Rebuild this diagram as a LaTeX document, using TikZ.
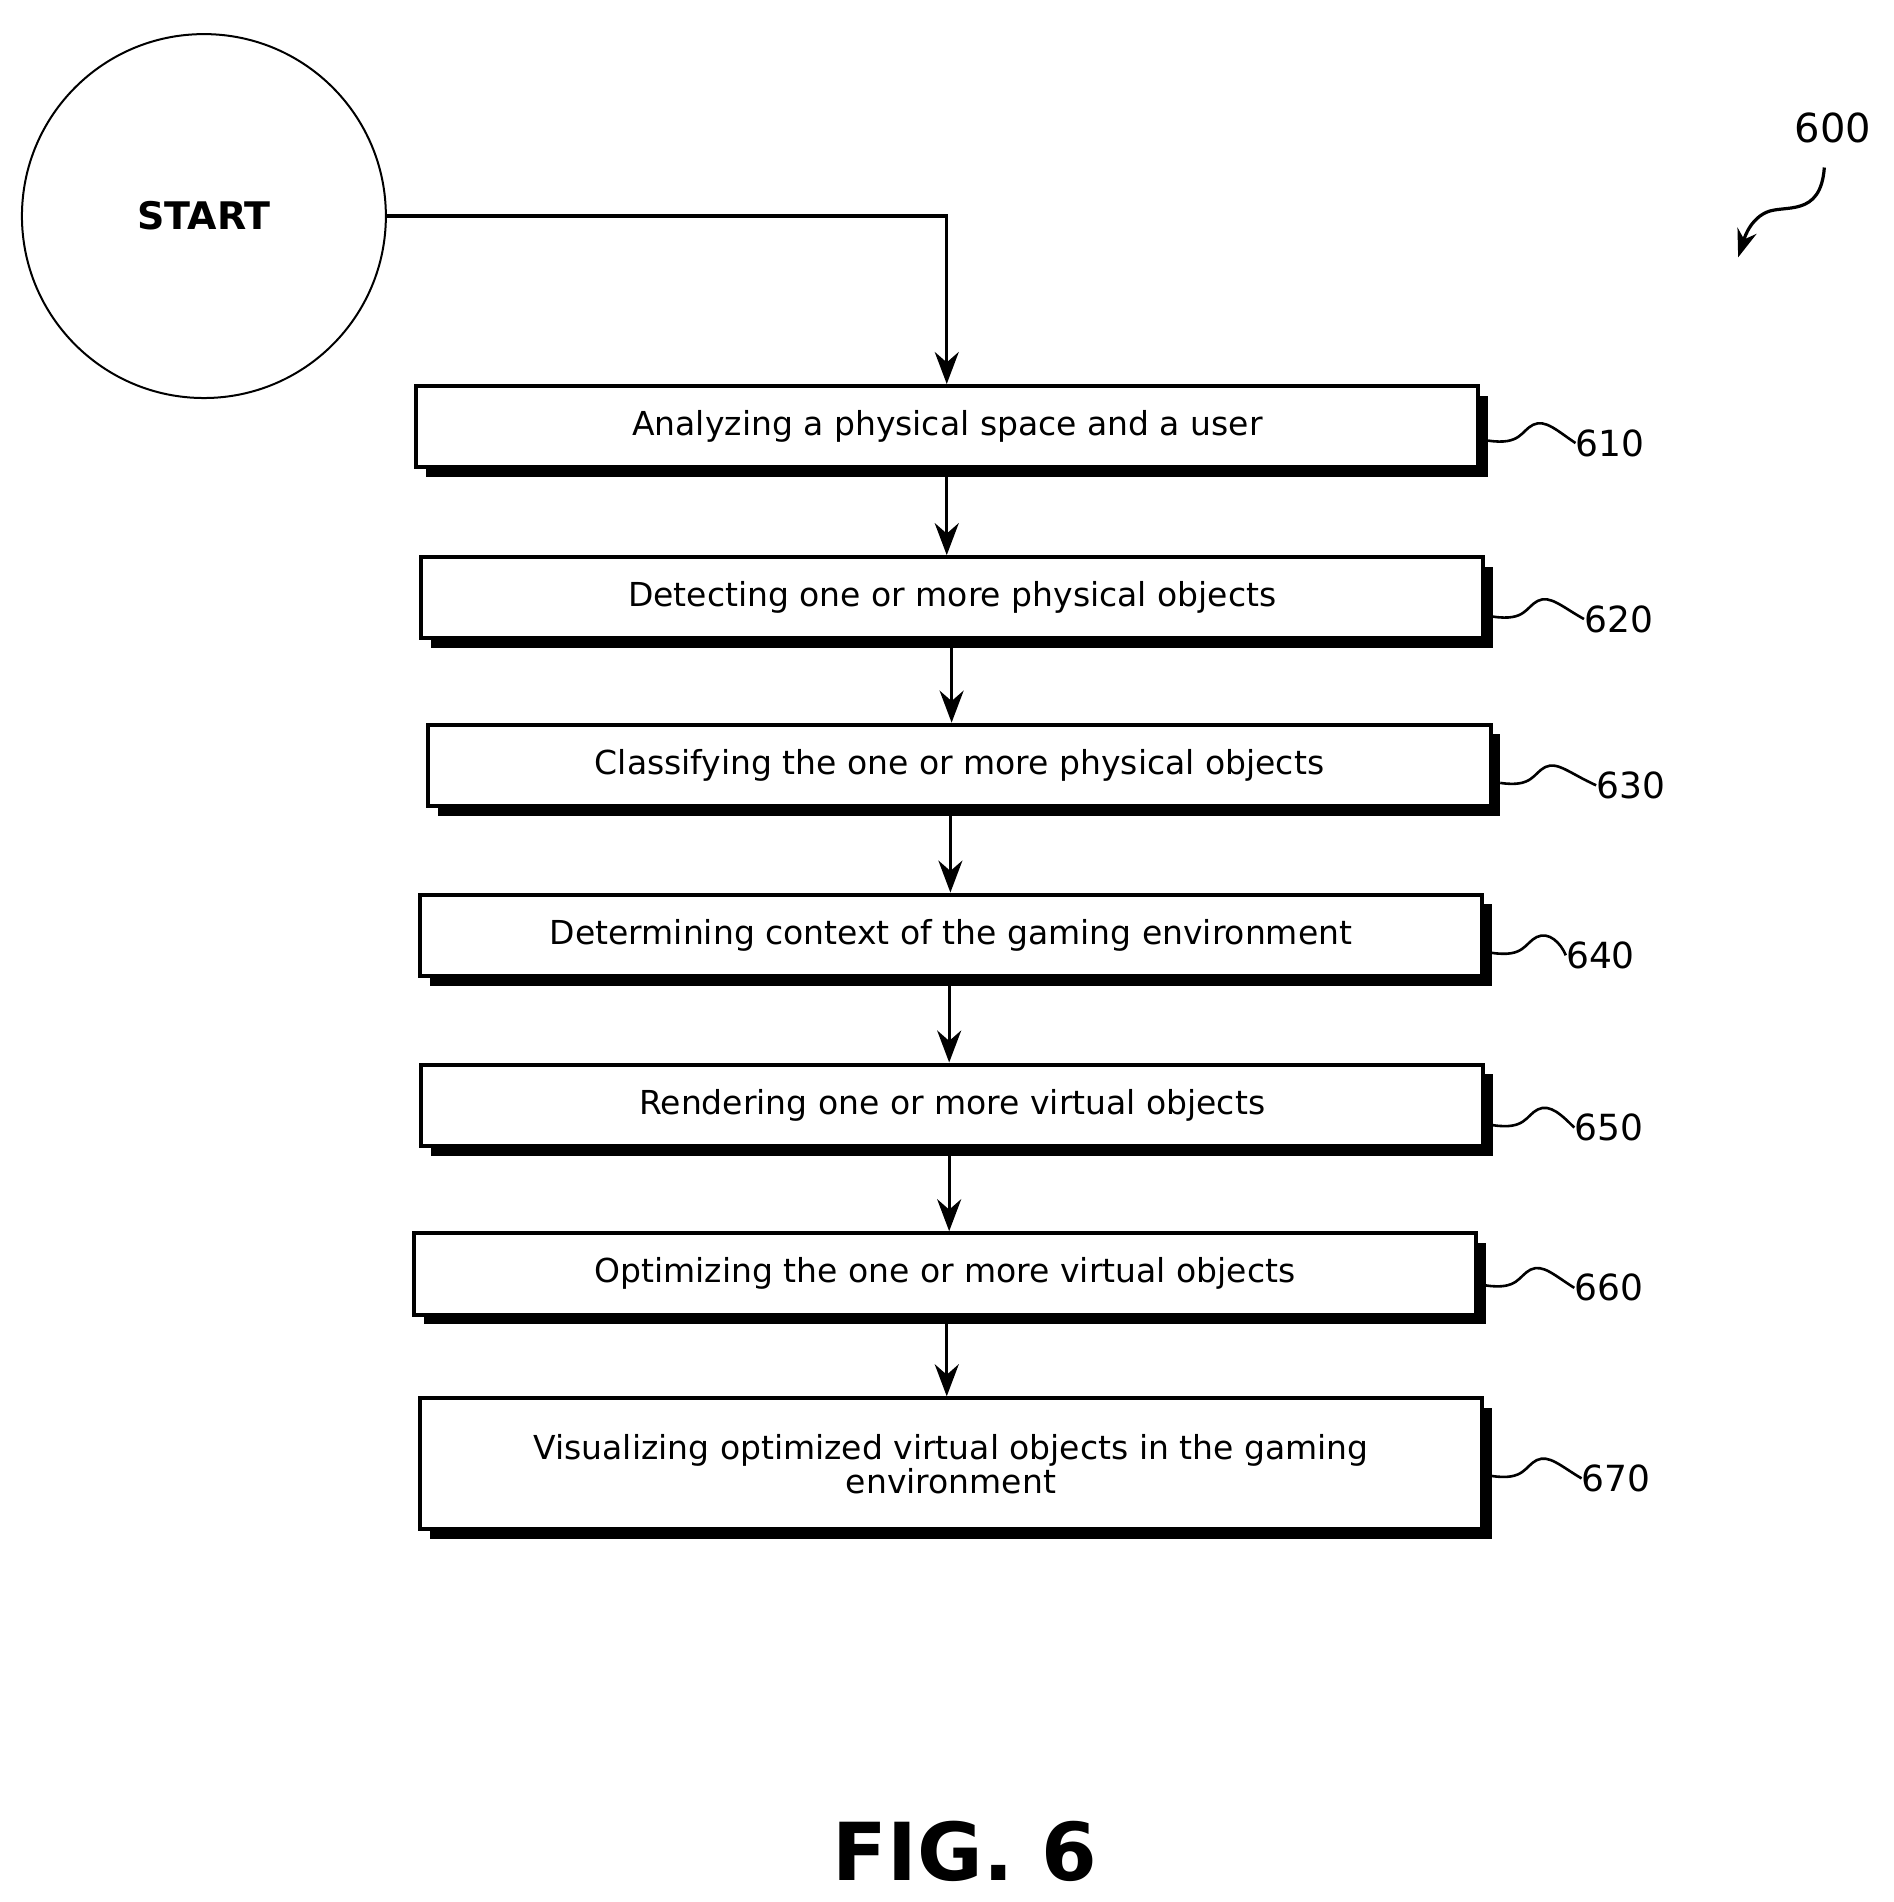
\documentclass[tikz,border=0pt]{standalone}
\usepackage{fontspec}
\setmainfont{DejaVu Sans}
\usetikzlibrary{arrows.meta}
\begin{document}
\begin{tikzpicture}[x=0.607pt,y=-0.607pt,
  box/.style={draw,line width=2pt,fill=white,minimum height=40.7pt,inner sep=0pt,font=\fontsize{16.5}{19}\selectfont,align=center},
  arr/.style={line width=1.6pt,-{Stealth[length=16pt,width=12pt]}},
  lbl/.style={font=\fontsize{18}{20}\selectfont,anchor=west,inner sep=0pt},
  sq/.style={line width=1.3pt}]
\useasboundingbox (0,0) rectangle (1560,1567);
\node[draw,circle,line width=1pt,minimum size=182pt] (start) at (168,178) {\fontsize{19}{20}\selectfont\bfseries START};
\def\mk#1#2#3#4#5#6{%
  \fill (#2+8,#4+8) rectangle (#3+8,#5+8);
  \node[box,minimum width={(#3-#2)*0.607pt},minimum height={(#5-#4)*0.607pt}] (#1) at ({(#2+#3)/2},{(#4+#5)/2}) {#6};}
\mk{b610}{343}{1218}{318}{385}{Analyzing a physical space and a user}
\mk{b620}{347}{1222}{459}{526}{Detecting one or more physical objects}
\mk{b630}{353}{1228}{597}{664}{Classifying the one or more physical objects}
\mk{b640}{346}{1221}{737}{804}{Determining context of the gaming environment}
\mk{b650}{347}{1222}{877}{944}{Rendering one or more virtual objects}
\mk{b660}{341}{1216}{1016}{1083}{Optimizing the one or more virtual objects}
\mk{b670}{346}{1221}{1152}{1260}{Visualizing optimized virtual objects in the gaming\\[-2pt] environment}
\draw[arr] (start.east) -- (780,178) -- (b610.north -| 780,0);
\draw[arr] (780,393) -- (b620.north -| 780,0);
\draw[arr] (784,534) -- (b630.north -| 784,0);
\draw[arr] (783,672) -- (b640.north -| 783,0);
\draw[arr] (782,812) -- (b650.north -| 782,0);
\draw[arr] (782,952) -- (b660.north -| 782,0);
\draw[arr] (780,1091) -- (b670.north -| 780,0);
\def\lb#1#2#3#4{%
  \node[lbl] (l#1) at (#3,#4) {#1};
  \draw[sq] (#2+8,#4-2) .. controls (#2+35,#4+2) and (#2+35,#4-10) .. (#2+45,#4-15) .. controls (#2+55,#4-20) and (#2+65,#4-10) .. (l#1.west);}
\lb{610}{1218}{1298}{365}
\lb{620}{1222}{1305}{510}
\lb{630}{1228}{1315}{647}
\lb{640}{1221}{1290}{787}
\lb{650}{1222}{1297}{929}
\lb{660}{1216}{1297}{1061}
\lb{670}{1221}{1303}{1218}
\node[font=\fontsize{20}{22}\selectfont] (n600) at (1510,105) {600};
\coordinate (t600) at (1432,212);
\draw[line width=1.6pt,-{Stealth[length=14pt,width=10pt]}] (1503,138) .. controls (1500,180) and (1470,168) .. (1455,175) .. controls (1440,182) and (1436,200) .. (t600);
\node[font=\fontsize{40}{44}\selectfont\bfseries] (fig) at (795,1525) {FIG. 6};
\end{tikzpicture}
\end{document}
